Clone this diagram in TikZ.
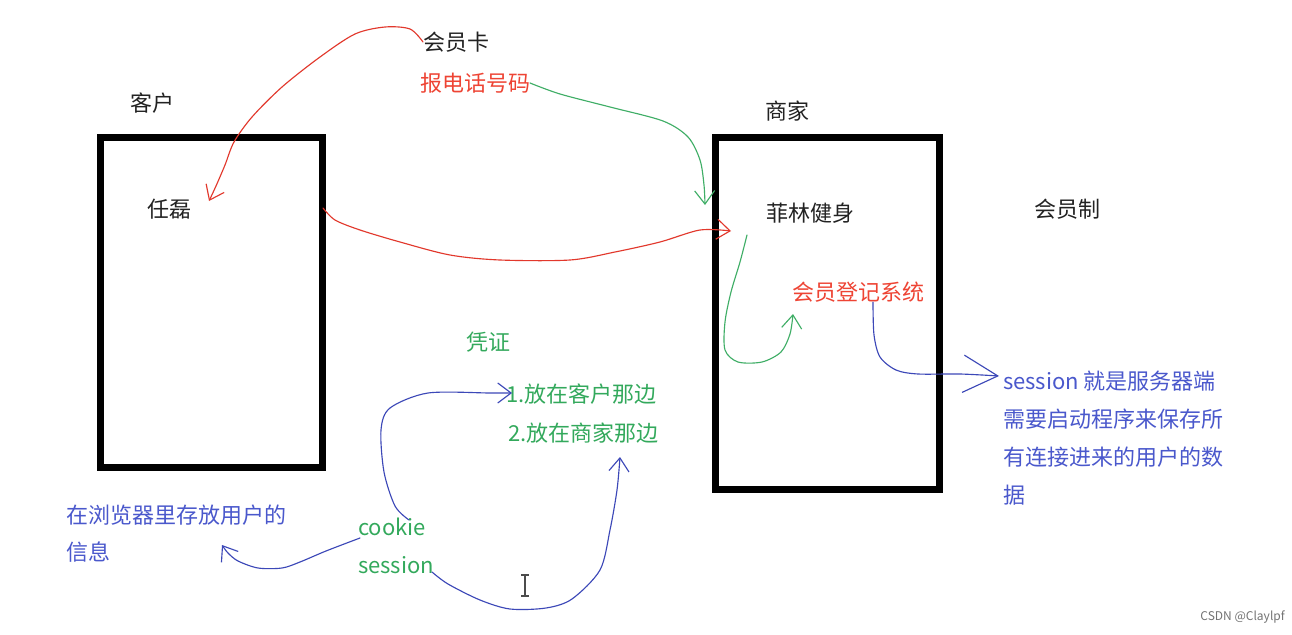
\documentclass[tikz,border=0pt]{standalone}
\usepackage{fontspec}
\setmainfont{Noto Sans CJK SC}
\usetikzlibrary{arrows.meta,fit}
\definecolor{tred}{HTML}{EE4434}
\definecolor{tgreen}{HTML}{33A95C}
\definecolor{tblue}{HTML}{4A58CC}
\definecolor{lred}{HTML}{E2382C}
\definecolor{lgreen}{HTML}{3FAE66}
\definecolor{lblue}{HTML}{3C48B8}
\definecolor{tblack}{HTML}{222222}
\begin{document}
\begin{tikzpicture}[x=0.75pt,y=-0.75pt,
  txt/.style={inner sep=0pt, outer sep=0pt, anchor=west, text=tblack, font=\fontsize{16.5}{20}\selectfont},
  boxframe/.style={draw=black, line width=5.25pt, inner sep=0pt, outer sep=0pt},
  hand/.style={line width=0.85pt, line cap=round, line join=round},
  head/.style={-{Straight Barb[length=10pt,width=15pt,line width=0.85pt]}},
  bighead/.style={-{Straight Barb[length=26pt,width=28pt,line width=0.85pt]}}
]
\useasboundingbox[fill=white] (0,0) rectangle (1292,635);

% boxes
\coordinate (b1a) at (100,137); \coordinate (b1b) at (322,467);
\coordinate (b2a) at (715,137); \coordinate (b2b) at (939,489);
\node[boxframe, fit=(b1a)(b1b)] (box1) {};
\node[boxframe, fit=(b2a)(b2b)] (box2) {};

% texts
\node[txt] (kehu) at (130,103) {客户};
\node[txt] (hyk) at (423,42) {会员卡};
\node[txt, text=tred] (bdh) at (420,83) {报电话号码};
\node[txt] (shangjia) at (765,111) {商家};
\node[txt] (renlei) at (147,209) {任磊};
\node[txt] (feilin) at (766,213) {菲林健身};
\node[txt] (hyz) at (1034,209) {会员制};
\node[txt, text=tred] (hydj) at (792,292) {会员登记系统};
\node[txt, text=tgreen] (pingzheng) at (466,342) {凭证};
\node[txt, text=tgreen] (fang1) at (506,394) {1.放在客户那边};
\node[txt, text=tgreen] (fang2) at (508,433) {2.放在商家那边};
\node[txt, text=tblue, align=left, font=\fontsize{16.5}{28.5}\selectfont] (sessdesc) at (1003,438)
  {session 就是服务器端\\需要启动程序来保存所\\有连接进来的用户的数\\据};
\node[txt, text=tblue, align=left, font=\fontsize{16.5}{27.75}\selectfont] (browser) at (66,533.5)
  {在浏览器里存放用户的\\信息};
\node[txt, text=tgreen] (cookie) at (358,527) {cookie};
\node[txt, text=tgreen] (session) at (358,565) {session};
\node[inner sep=0pt, anchor=east, text=black!55, font=\fontsize{9}{10}\selectfont] (csdn) at (1285,617) {CSDN @Claylpf};

% free ends
\coordinate (r1tip) at (209,201);
\coordinate (r2start) at (323,208);
\coordinate (r2tip) at (731,231);
\coordinate (g1tip) at (705,205);
\coordinate (g2start) at (747,235);
\coordinate (g2tip) at (793,314);
\coordinate (bl1tip) at (999,376);
\coordinate (bl2start) at (360,538);
\coordinate (bl2tip) at (222,545);
\coordinate (bl3start) at (432,572);
\coordinate (bl3tip) at (620,457);
\coordinate (bl4start) at (409,520);
\coordinate (bl4tip) at (512,393);

% red connectors
\draw[hand, lred, head] plot[smooth] coordinates {(hyk.west) (410,29) (385,27) (355,34) (320,57) (282,87) (252,117) (234,142) (225,165) (216,186) (r1tip)};
\draw[hand, lred, head] plot[smooth] coordinates {(r2start) (335,220) (360,230) (400,242) (450,255) (500,260) (570,260) (615,252) (660,242) (700,230) (r2tip)};

% green connectors
\draw[hand, lgreen, head] plot[smooth] coordinates {(bdh.east) (560,94) (610,107) (663,121) (688,137) (700,160) (704,185) (g1tip)};
\draw[hand, lgreen, head] plot[smooth] coordinates {(g2start) (740,262) (731,292) (725,322) (725,350) (738,362) (762,362) (781,352) (790,334) (g2tip)};

% blue connectors
\draw[hand, lblue, bighead] plot[smooth] coordinates {(hydj.south -| 873,0) (874,335) (880,357) (896,370) (918,374) (960,374) (bl1tip)};
\draw[hand, lblue, head] plot[smooth] coordinates {(bl2start) (326,551) (300,562) (282,568) (258,568) (238,561) (228,553) (bl2tip)};
\draw[hand, lblue, head] plot[smooth] coordinates {(bl3start) (448,584) (480,600) (510,609) (546,608) (572,599) (600,570) (610,530) (617,490) (bl3tip)};
\draw[hand, lblue, head] plot[smooth] coordinates {(bl4start) (395,506) (384,472) (381,430) (390,408) (428,393) (490,393) (bl4tip)};

% text cursor
\draw[line width=0.8pt, black!70] (525,575) -- (525,596) (521,575) -- (529,575) (521,596) -- (529,596);
\end{tikzpicture}
\end{document}
